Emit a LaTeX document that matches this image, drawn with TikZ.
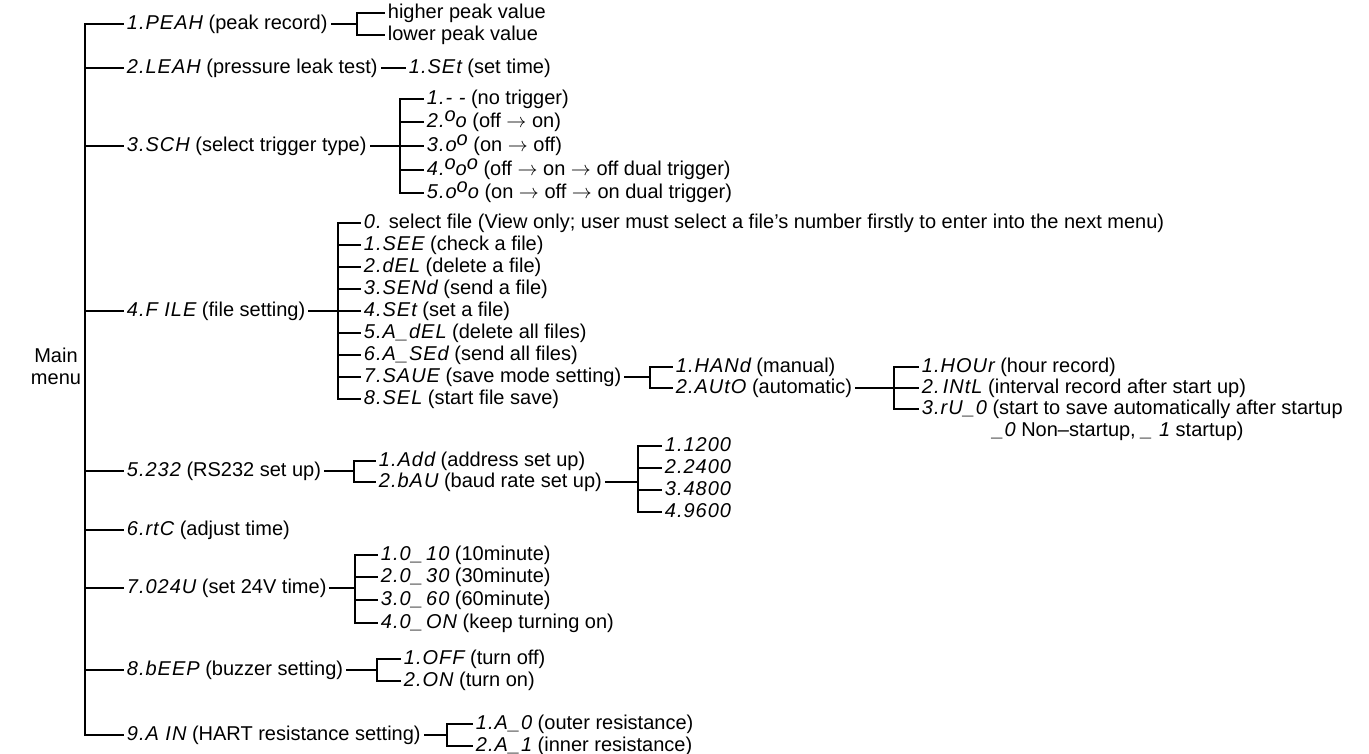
\documentclass[tikz,border=0pt]{standalone}
\usepackage{fontspec}
\setmainfont{Liberation Sans}
\newfontfamily\segfont[LetterSpace=5]{Liberation Sans}
\newcommand\seg[1]{{\segfont\itshape #1}}
\newcommand\hio{\raisebox{0.5ex}{o}}
\newcommand\ar{$\rightarrow$}
\begin{document}
\begin{tikzpicture}[x=0.5pt, y=-0.5pt, line width=0.9pt, line cap=rect,
    every node/.style={font=\fontsize{10}{11}\selectfont, inner xsep=1.5pt, inner ysep=1pt},
    item/.style={anchor=west, text height=0.72em, text depth=0.2em}]
  \useasboundingbox (0,0) rectangle (1369,754);
  % main menu and its spine
  \node[align=center] (main) at (56,366) {Main\\menu};
  \coordinate (spine) at (85,0);
  \foreach \n/\yy/\txt in {1/24/{\seg{1.PEAH} (peak record)},
      2/68/{\seg{2.LEAH} (pressure leak test)},
      3/146/{\seg{3.SCH} (select trigger type)},
      4/311/{\seg{4.F ILE} (file setting)},
      5/471/{\seg{5.232} (RS232 set up)},
      6/530/{\seg{6.rtC} (adjust time)},
      7/588/{\seg{7.024U} (set 24V time)},
      8/670/{\seg{8.bEEP} (buzzer setting)},
      9/735/{\seg{9.A IN} (HART resistance setting)}} {
    \node[item] (m\n) at (123,\yy) {\txt};
    \draw (m\n.west) -- (m\n.west -| spine);
  }
  \draw (m1.west -| spine) -- (m9.west -| spine);

  % peak record
  \coordinate (vpk) at (357,0);
  \foreach \k/\yy/\txt in {1/13/higher peak value, 2/35/lower peak value} {
    \node[item] (pk\k) at (384,\yy) {\txt};
    \draw (pk\k.west) -- (pk\k.west -| vpk);
  }
  \draw (pk1.west -| vpk) -- (pk2.west -| vpk);
  \draw (m1.east) -- (m1.east -| vpk);

  % leak test
  \node[item] (lk1) at (405,68) {\seg{1.SEt} (set time)};
  \draw (m2.east) -- (lk1.west);

  % trigger type
  \coordinate (vtr) at (400,0);
  \foreach \k/\yy/\txt in {1/99/{\seg{1.- -} (no trigger)},
      2/122/{\seg{2.\hio o} (off \ar{} on)},
      3/146/{\seg{3.o\hio} (on \ar{} off)},
      4/170/{\seg{4.\hio o\hio} (off \ar{} on \ar{} off dual trigger)},
      5/193/{\seg{5.o\hio o} (on \ar{} off \ar{} on dual trigger)}} {
    \node[item] (tr\k) at (423,\yy) {\txt};
    \draw (tr\k.west) -- (tr\k.west -| vtr);
  }
  \draw (tr1.west -| vtr) -- (tr5.west -| vtr);
  \draw (m3.east) -- (m3.east -| vtr);

  % file setting
  \coordinate (vfl) at (338,0);
  \foreach \k/\txt in {0/{\seg{0.} select file (View only; user must select a file's number firstly to enter into the next menu)},
      1/{\seg{1.SEE} (check a file)},
      2/{\seg{2.dEL} (delete a file)},
      3/{\seg{3.SENd} (send a file)},
      4/{\seg{4.SEt} (set a file)},
      5/{\seg{5.A\_dEL} (delete all files)},
      6/{\seg{6.A\_SEd} (send all files)},
      7/{\seg{7.SAUE} (save mode setting)},
      8/{\seg{8.SEL} (start file save)}} {
    \pgfmathsetmacro{\yy}{223+22*\k}
    \node[item] (fl\k) at (360,\yy) {\txt};
    \draw (fl\k.west) -- (fl\k.west -| vfl);
  }
  \draw (fl0.west -| vfl) -- (fl8.west -| vfl);
  \draw (m4.east) -- (m4.east -| vfl);

  % save mode
  \coordinate (vsv) at (650,0);
  \foreach \k/\yy/\txt in {1/367/{\seg{1.HANd} (manual)}, 2/388/{\seg{2.AUtO} (automatic)}} {
    \node[item] (sv\k) at (672,\yy) {\txt};
    \draw (sv\k.west) -- (sv\k.west -| vsv);
  }
  \draw (sv1.west -| vsv) -- (sv2.west -| vsv);
  \draw (fl7.east) -- (fl7.east -| vsv);

  % automatic
  \coordinate (vau) at (894,0);
  \foreach \k/\yy/\txt in {1/367/{\seg{1.HOUr} (hour record)},
      2/388/{\seg{2.\,INtL} (interval record after start up)},
      3/409/{\seg{3.rU\_0} (start to save automatically after startup}} {
    \node[item] (au\k) at (918,\yy) {\txt};
    \draw (au\k.west) -- (au\k.west -| vau);
  }
  \draw (au1.west -| vau) -- (au3.west -| vau);
  \draw (sv2.east) -- (sv2.east -| vau);
  \node[item] (au3n) at (918,431) {\phantom{\seg{3.rU\_0}} \seg{\_0} Non–startup, \seg{\_\ 1} startup)};

  % RS232
  \coordinate (vrs) at (354,0);
  \foreach \k/\yy/\txt in {1/461/{\seg{1.Add} (address set up)}, 2/482/{\seg{2.bAU} (baud rate set up)}} {
    \node[item] (rs\k) at (375,\yy) {\txt};
    \draw (rs\k.west) -- (rs\k.west -| vrs);
  }
  \draw (rs1.west -| vrs) -- (rs2.west -| vrs);
  \draw (m5.east) -- (m5.east -| vrs);

  % baud rate
  \coordinate (vbd) at (638,0);
  \foreach \k/\yy/\txt in {1/446/1.1200, 2/468/2.2400, 3/490/3.4800, 4/512/4.9600} {
    \node[item] (bd\k) at (661,\yy) {\seg{\txt}};
    \draw (bd\k.west) -- (bd\k.west -| vbd);
  }
  \draw (bd1.west -| vbd) -- (bd4.west -| vbd);
  \draw (rs2.east) -- (rs2.east -| vbd);

  % 24V time
  \coordinate (vtm) at (355,0);
  \foreach \k/\yy/\txt in {1/555/{\seg{1.0\_\,10} (10minute)},
      2/577/{\seg{2.0\_\,30} (30minute)},
      3/600/{\seg{3.0\_\,60} (60minute)},
      4/623/{\seg{4.0\_\,ON} (keep turning on)}} {
    \node[item] (tm\k) at (377,\yy) {\txt};
    \draw (tm\k.west) -- (tm\k.west -| vtm);
  }
  \draw (tm1.west -| vtm) -- (tm4.west -| vtm);
  \draw (m7.east) -- (m7.east -| vtm);

  % buzzer
  \coordinate (vbz) at (377,0);
  \foreach \k/\yy/\txt in {1/659/{\seg{1.OFF} (turn off)}, 2/681/{\seg{2.ON} (turn on)}} {
    \node[item] (bz\k) at (400,\yy) {\txt};
    \draw (bz\k.west) -- (bz\k.west -| vbz);
  }
  \draw (bz1.west -| vbz) -- (bz2.west -| vbz);
  \draw (m8.east) -- (m8.east -| vbz);

  % HART resistance
  \coordinate (vrz) at (447,0);
  \foreach \k/\yy/\txt in {1/724/{\seg{1.A\_0} (outer resistance)}, 2/746/{\seg{2.A\_1} (inner resistance)}} {
    \node[item] (rz\k) at (472,\yy) {\txt};
    \draw (rz\k.west) -- (rz\k.west -| vrz);
  }
  \draw (rz1.west -| vrz) -- (rz2.west -| vrz);
  \draw (m9.east) -- (m9.east -| vrz);
\end{tikzpicture}
\end{document}
